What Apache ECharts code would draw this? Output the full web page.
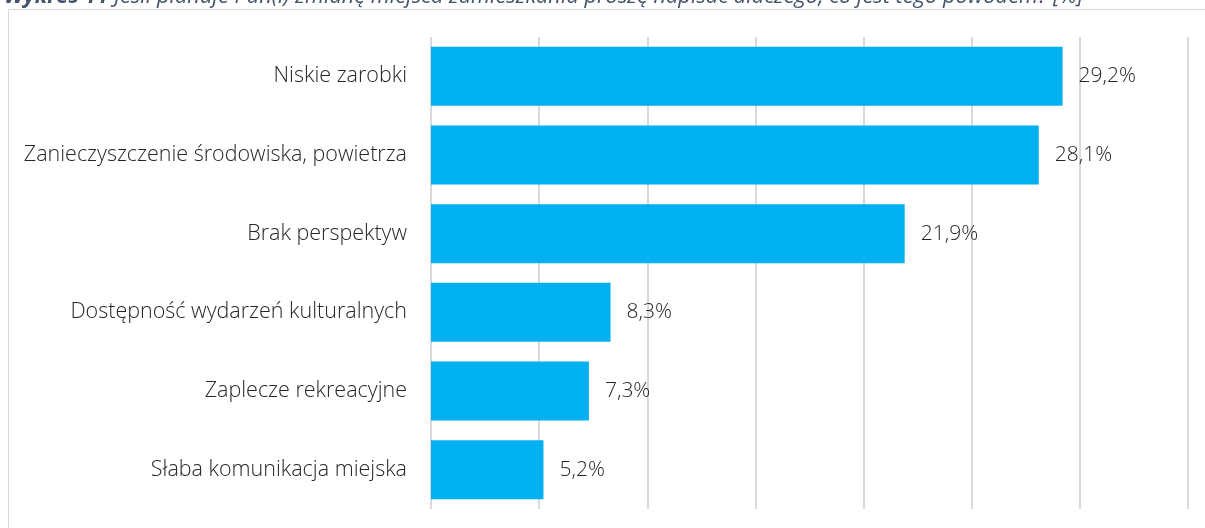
<!DOCTYPE html>
<html>
<head>
<meta charset="utf-8">
<script src="https://cdn.jsdelivr.net/npm/echarts@6/dist/echarts.min.js"></script>
<style>
  html, body { margin: 0; padding: 0; background: #fff; }
  #chart { width: 1205px; height: 528px; }
</style>
</head>
<body>
<div id="chart"></div>
<script>
const categories = [
  "Niskie zarobki",
  "Zanieczyszczenie środowiska, powietrza",
  "Brak perspektyw",
  "Dostępność wydarzeń kulturalnych",
  "Zaplecze rekreacyjne",
  "Słaba komunikacja miejska",
];
const values = [29.2, 28.1, 21.9, 8.3, 7.3, 5.2];
const titleText = "Jeśli planuje Pan(i) zmianę miejsca zamieszkania proszę napisać dlaczego, co jest tego powodem? [%]";

const font = "'Open Sans', sans-serif";
const pct = (v) => v.toFixed(1).replace(".", ",") + "%";

const chart = echarts.init(document.getElementById("chart"), null, { renderer: "canvas" });
chart.setOption({
  animation: false,
  graphic: [
    {
      type: "rect",
      silent: true,
      shape: { x: 8.5, y: 9.5, width: 1220, height: 540 },
      style: { fill: "none", stroke: "#d9d9d9", lineWidth: 1 },
    },
    {
      type: "text",
      left: 4,
      top: -14,
      style: {
        text: "{b|Wykres 11} " + titleText,
        rich: {
          b: { fontWeight: "bold", fontStyle: "italic", fontSize: 21.8, fill: "#44546a", fontFamily: font },
        },
        fontStyle: "italic",
        fontSize: 21.8,
        fill: "#44546a",
        fontFamily: font,
      },
    },
  ],
  grid: { left: 431, right: 17, top: 37, bottom: 19, containLabel: false },
  xAxis: {
    type: "value",
    min: 0,
    max: 35,
    interval: 5,
    axisLabel: { show: false },
    axisLine: { show: false },
    axisTick: { show: false },
    splitLine: { lineStyle: { color: "#d9d9d9", width: 2 } },
  },
  yAxis: {
    type: "category",
    data: categories,
    inverse: true,
    axisLine: { show: false },
    axisTick: { show: false },
    axisLabel: { color: "#262626", fontSize: 21.5, fontWeight: 300, fontFamily: font, margin: 24 },
  },
  series: [
    {
      type: "bar",
      data: values,
      barCategoryGap: "25%",
      itemStyle: { color: "#00b0f0" },
      label: {
        show: true,
        position: "right",
        distance: 16,
        color: "#262626",
        fontSize: 21,
        fontWeight: 300,
        fontFamily: font,
        formatter: (p) => pct(p.value),
      },
    },
  ],
});
</script>
</body>
</html>
